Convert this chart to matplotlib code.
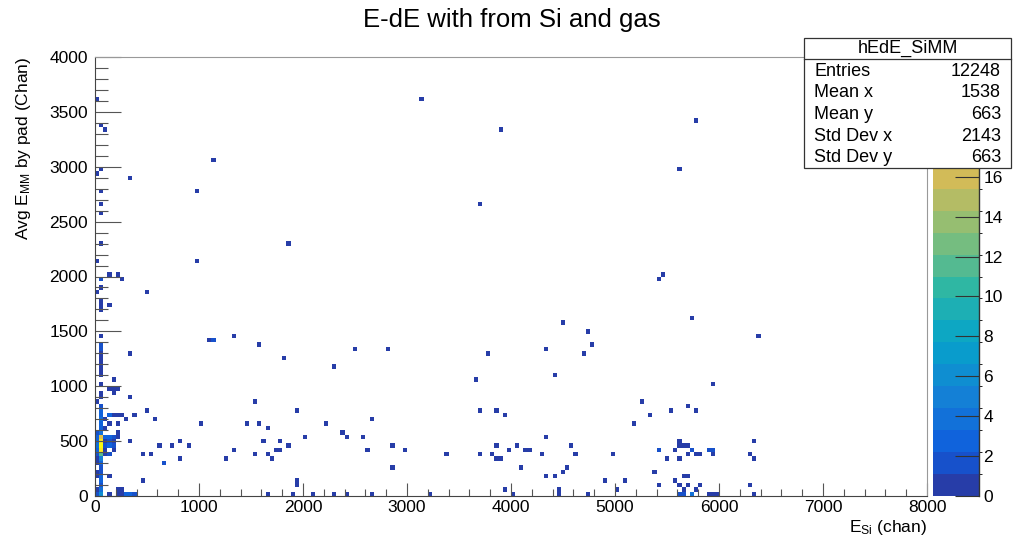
import numpy as np
import matplotlib
matplotlib.use('Agg')
import matplotlib.pyplot as plt
from matplotlib.colors import LinearSegmentedColormap, ListedColormap, BoundaryNorm
from matplotlib.patches import Rectangle
from matplotlib.lines import Line2D

plt.rcParams['font.family'] = ['Liberation Sans', 'DejaVu Sans']
plt.rcParams['mathtext.fontset'] = 'custom'
plt.rcParams['mathtext.rm'] = 'Liberation Sans'
plt.rcParams['mathtext.it'] = 'Liberation Sans'

# filled bins: x (chan), y (chan), counts
pts = [
    # first column (0-40)
    (20, 3620, 1), (20, 2940, 1), (20, 2140, 1), (20, 1860, 1), (20, 860, 1),
    (20, 580, 2), (20, 540, 3), (20, 500, 3), (20, 460, 4), (20, 420, 3),
    (20, 380, 2), (20, 340, 1), (20, 300, 1), (20, 220, 1), (20, 180, 1),
    (20, 60, 1), (20, 20, 2),
    # second column (40-80)
    (60, 3380, 1), (60, 2980, 1), (60, 2780, 1), (60, 2660, 1), (60, 2580, 1),
    (60, 2300, 1), (60, 1980, 2), (60, 1900, 1), (60, 1780, 1), (60, 1740, 1),
    (60, 1700, 1), (60, 1460, 1), (60, 1380, 2), (60, 1340, 2), (60, 1300, 1),
    (60, 1260, 1), (60, 1220, 1), (60, 1180, 1), (60, 1140, 1), (60, 1100, 1),
    (60, 1020, 1), (60, 940, 1), (60, 900, 1), (60, 820, 2), (60, 780, 3),
    (60, 740, 3), (60, 700, 4), (60, 660, 3), (60, 620, 3), (60, 580, 4),
    (60, 540, 17), (60, 500, 20), (60, 460, 22), (60, 420, 20), (60, 380, 11),
    (60, 340, 5), (60, 300, 3), (60, 260, 2), (60, 220, 2), (60, 180, 3),
    (60, 140, 3), (60, 100, 2), (60, 60, 4), (60, 20, 6),
    # the rest of the low-energy corner
    (100, 3340, 1), (100, 700, 1), (100, 620, 1), (100, 540, 3), (100, 500, 1),
    (100, 460, 2), (100, 420, 1), (100, 380, 1),
    (140, 2020, 1), (140, 1740, 1), (140, 980, 1), (140, 740, 3), (140, 660, 1),
    (140, 540, 3), (140, 500, 2), (140, 460, 3), (140, 380, 2), (140, 180, 1),
    (140, 20, 1),
    (180, 1060, 1), (180, 980, 1), (180, 940, 1), (180, 740, 1), (180, 540, 2),
    (180, 500, 1), (180, 460, 2), (180, 420, 1),
    (220, 2020, 1), (220, 980, 1), (220, 740, 1), (220, 660, 1), (220, 580, 1),
    (220, 540, 1), (220, 60, 1), (220, 20, 1),
    (260, 1980, 1), (260, 740, 1), (260, 60, 1), (260, 20, 1),
    (300, 700, 1), (300, 20, 3),
    (340, 2900, 1), (340, 1300, 1), (340, 900, 1), (340, 500, 1), (340, 20, 3),
    (380, 740, 1), (380, 20, 2),
    (460, 380, 1), (460, 140, 1), (500, 1860, 1), (500, 780, 1),
    (540, 380, 1), (580, 700, 1), (620, 460, 1), (660, 300, 2), (740, 460, 1),
    # 800 - 2000
    (820, 500, 1), (820, 340, 1), (900, 460, 1), (980, 2780, 1), (980, 2140, 1),
    (1020, 660, 1), (1100, 1420, 1), (1140, 1420, 2), (1140, 3060, 1),
    (1260, 340, 1), (1340, 1460, 1), (1340, 420, 1), (1460, 660, 1),
    (1540, 860, 1), (1540, 380, 1), (1580, 1380, 1), (1580, 660, 1),
    (1620, 500, 1), (1660, 620, 1), (1660, 380, 1), (1660, 20, 1),
    (1700, 340, 1), (1740, 420, 1), (1780, 500, 1), (1780, 420, 1),
    (1820, 1260, 1), (1860, 2300, 1), (1860, 460, 1), (1900, 20, 1),
    (1940, 780, 1), (1940, 140, 1), (1940, 100, 1),
    # 2000 - 4000
    (2020, 540, 1), (2100, 20, 1), (2220, 660, 1), (2300, 1180, 1), (2300, 20, 1),
    (2380, 580, 1), (2420, 540, 1), (2420, 20, 1), (2500, 1340, 1),
    (2580, 540, 1), (2620, 420, 1), (2660, 700, 1), (2660, 20, 1),
    (2820, 1340, 1), (2860, 460, 1), (2860, 260, 1), (2980, 420, 1),
    (3140, 3620, 1), (3220, 20, 1), (3380, 380, 1), (3660, 1060, 1),
    (3700, 2660, 1), (3700, 780, 1), (3700, 380, 1), (3780, 1300, 1),
    (3820, 380, 1), (3860, 780, 1), (3860, 460, 1), (3860, 340, 1),
    (3900, 340, 1), (3900, 3340, 1), (3940, 740, 1), (3940, 60, 1),
    (3980, 420, 1),
    # 4000 - 6500
    (4020, 20, 1), (4060, 460, 1), (4100, 260, 1), (4140, 420, 1), (4180, 420, 1),
    (4300, 380, 1), (4340, 1340, 1), (4340, 540, 1), (4340, 180, 1),
    (4420, 1100, 1), (4420, 180, 1), (4460, 60, 1), (4460, 20, 1),
    (4500, 1580, 1), (4500, 220, 1), (4540, 260, 1), (4580, 460, 1),
    (4620, 380, 1), (4700, 1300, 1), (4740, 1500, 1), (4740, 20, 1),
    (4780, 1380, 1), (4900, 140, 1), (4980, 380, 1), (5020, 60, 1),
    (5100, 140, 1), (5180, 660, 1), (5260, 860, 1), (5340, 740, 1),
    (5380, 220, 1), (5460, 2020, 1), (5420, 1980, 1), (5420, 420, 2),
    (5420, 100, 1), (5500, 340, 1), (5540, 780, 1), (5580, 420, 1),
    (5580, 140, 1), (5620, 2980, 1), (5620, 500, 1), (5620, 460, 1),
    (5660, 460, 1), (5700, 460, 1), (5620, 340, 1), (5620, 100, 1),
    (5620, 20, 2), (5660, 180, 1), (5660, 60, 1), (5660, 20, 2),
    (5700, 820, 1), (5700, 380, 1), (5700, 180, 1), (5700, 100, 1),
    (5740, 1620, 1), (5740, 420, 2), (5740, 20, 4), (5780, 3420, 1),
    (5780, 780, 1), (5780, 380, 1), (5780, 60, 1), (5820, 380, 1),
    (5820, 100, 1), (5900, 420, 2), (5900, 20, 1), (5940, 1020, 1),
    (5940, 420, 2), (5940, 380, 1), (5940, 20, 1), (5980, 20, 1),
    (6300, 380, 1), (6300, 100, 1), (6340, 500, 1), (6340, 340, 1),
    (6340, 20, 1), (6380, 1460, 1),
]
x_vals = [p[0] for p in pts]
y_vals = [p[1] for p in pts]
counts = [p[2] for p in pts]

stats_labels = ['Entries', 'Mean x', 'Mean y', 'Std Dev x', 'Std Dev y']
stats_values = ['12248', '1538', '663', '2143', '663']

# ROOT kBird palette
bird_r = [0.2082, 0.0592, 0.0780, 0.0232, 0.1802, 0.5301, 0.8186, 0.9956, 0.9764]
bird_g = [0.1664, 0.3599, 0.5041, 0.6419, 0.7178, 0.7492, 0.7328, 0.7862, 0.9832]
bird_b = [0.5293, 0.8684, 0.8385, 0.7914, 0.6425, 0.4662, 0.3499, 0.1968, 0.0539]
bird = LinearSegmentedColormap.from_list('bird', list(zip(bird_r, bird_g, bird_b)))
ndiv = 20
zmax = 22.0
lev_cols = [bird(int((i + 0.99) * 255 / ndiv) / 254.0) for i in range(ndiv)]
cmap = ListedColormap(lev_cols)
norm = BoundaryNorm(np.linspace(0, zmax, ndiv + 1), ndiv)

xedges = np.arange(0, 8001, 40)
yedges = np.arange(0, 4001, 40)
H, _, _ = np.histogram2d(x_vals, y_vals, bins=[xedges, yedges], weights=counts)
H = np.ma.masked_equal(H.T, 0)

W, Hh = 1023, 538
fig = plt.figure(figsize=(W / 100, Hh / 100), dpi=100)
ax = fig.add_axes([95 / W, 1 - 496 / Hh, 832 / W, 439 / Hh])
mesh = ax.pcolormesh(xedges, yedges, H, cmap=cmap, norm=norm)
ax.set_xlim(0, 8000)
ax.set_ylim(0, 4000)

ax.set_xticks(np.arange(0, 8001, 1000))
ax.set_xticks(np.arange(0, 8001, 200), minor=True)
ax.set_yticks(np.arange(0, 4001, 500))
ax.set_yticks(np.arange(0, 4001, 100), minor=True)
ax.tick_params(axis='x', which='major', direction='in', length=9.4, width=0.8,
               color='#555555', labelsize=12.5, pad=3)
ax.tick_params(axis='x', which='minor', direction='in', length=4.7, width=0.8,
               color='#555555')
ax.tick_params(axis='y', which='major', direction='in', length=18.7, width=0.8,
               color='#555555', labelsize=12.5, pad=5)
ax.tick_params(axis='y', which='minor', direction='in', length=9.4, width=0.8,
               color='#555555')
for side in ['left', 'bottom']:
    ax.spines[side].set_color('#444444')
for side in ['top', 'right']:
    ax.spines[side].set_color('#999999')

ax.set_xlabel('E$_{\\mathrm{Si}}$ (chan)', fontsize=12.5, loc='right')
ax.xaxis.set_label_coords(1.0, -0.05)
ax.set_ylabel('Avg E$_{\\mathrm{MM}}$ by pad (Chan)', fontsize=12.5, loc='top')
ax.yaxis.set_label_coords(-0.075, 1.0)

fig.text(0.5, 1 - 20 / Hh, 'E-dE with from Si and gas', ha='center', va='center',
         fontsize=18.5)

# colour scale (labels above 16 sit under the stats box)
cax = fig.add_axes([933 / W, 1 - 496 / Hh, 46 / W, 439 / Hh])
cb = fig.colorbar(mesh, cax=cax)
cb.outline.set_visible(False)
cb.set_ticks(np.arange(0, 17, 2))
cax.tick_params(direction='in', length=17, width=0.8, color='#333333',
                labelsize=12.5, pad=3)
cax.add_line(Line2D([1, 1], [0, 1], transform=cax.transAxes, color='#333333',
                    lw=1, clip_on=False))

# stats box
bx0, bx1 = 804 / W, 1011 / W
by0, by1 = 1 - 168 / Hh, 1 - 38 / Hh
fig.patches.append(Rectangle((bx0, by0), bx1 - bx0, by1 - by0, transform=fig.transFigure,
                             facecolor='white', edgecolor='#333333', lw=0.9, zorder=20))
fig.lines.append(Line2D([bx0, bx1], [1 - 59 / Hh, 1 - 59 / Hh], transform=fig.transFigure,
                        color='#333333', lw=0.9, zorder=21))
fig.text((bx0 + bx1) / 2, 1 - 48 / Hh, 'hEdE_SiMM', ha='center', va='center',
         fontsize=13, zorder=22)
for i, (lab, val) in enumerate(zip(stats_labels, stats_values)):
    yy = 1 - (71 + 21.7 * i) / Hh
    fig.text(814 / W, yy, lab, ha='left', va='center', fontsize=13, zorder=22)
    fig.text(1001 / W, yy, val, ha='right', va='center', fontsize=13, zorder=22)

fig.savefig('out.png', dpi=100)
